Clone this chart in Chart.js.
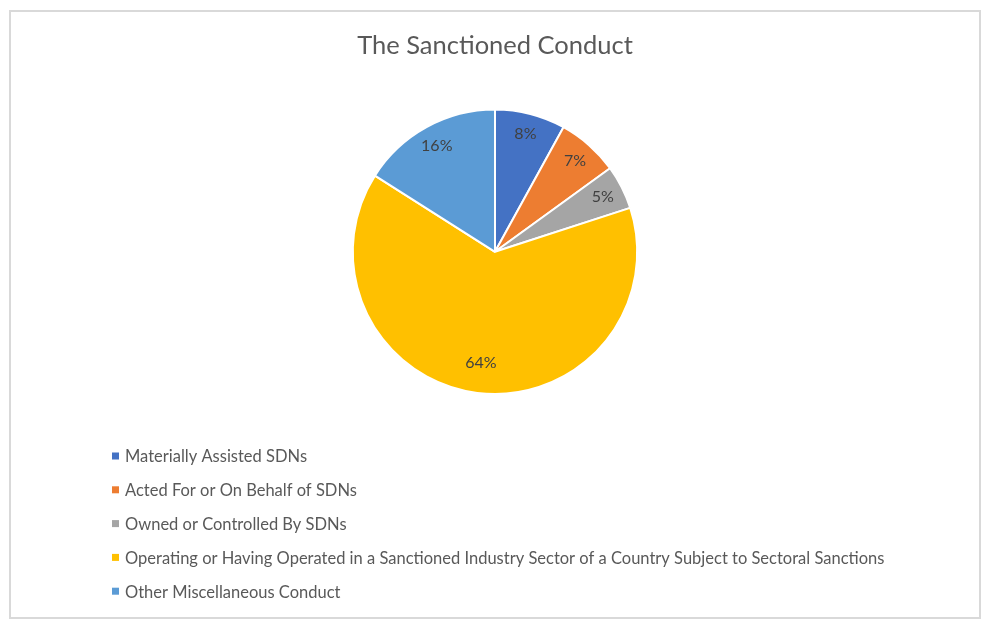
<!DOCTYPE html>
<html>
<head>
<meta charset="utf-8">
<script src="https://cdn.jsdelivr.net/npm/chart.js@4/dist/chart.umd.min.js"></script>
<style>
  html, body { margin: 0; padding: 0; background: #ffffff; }
  #frame { position: absolute; left: 9px; top: 10px; width: 968px; height: 605px; border: 2px solid #d9d9d9; }
  #wrap { position: absolute; left: 0; top: 0; width: 993px; height: 625px; }
</style>
</head>
<body>
<div id="frame"></div>
<div id="wrap"><canvas id="c" width="993" height="625"></canvas></div>
<script>
const categories = [
  "Materially Assisted SDNs",
  "Acted For or On Behalf of SDNs",
  "Owned or Controlled By SDNs",
  "Operating or Having Operated in a Sanctioned Industry Sector of a Country Subject to Sectoral Sanctions",
  "Other Miscellaneous Conduct"
];
const shares = [8, 7, 5, 64, 16];
const valueLabels = ["8%", "7%", "5%", "64%", "16%"];
const chartTitle = "The Sanctioned Conduct";

const sliceColors = ["#4472C4", "#ED7D31", "#A5A5A5", "#FFC000", "#5B9BD5"];
const labelRadiusFactor = [0.86, 0.85, 0.85, 0.79, 0.85];
const FONT = "Lato, 'Open Sans', sans-serif";

const dataLabelPlugin = {
  id: 'dataLabels',
  afterDatasetsDraw(chart) {
    const ctx = chart.ctx;
    const meta = chart.getDatasetMeta(0);
    ctx.save();
    ctx.font = "16px " + FONT;
    ctx.fillStyle = "#404040";
    ctx.textAlign = "center";
    ctx.textBaseline = "middle";
    meta.data.forEach((arc, i) => {
      const p = arc.getProps(['x', 'y', 'startAngle', 'endAngle', 'outerRadius'], true);
      const mid = (p.startAngle + p.endAngle) / 2;
      const r = p.outerRadius * labelRadiusFactor[i];
      ctx.fillText(valueLabels[i], p.x + Math.cos(mid) * r, p.y + Math.sin(mid) * r);
    });
    ctx.restore();
  }
};

const legendPlugin = {
  id: 'sideLegend',
  afterDraw(chart) {
    const ctx = chart.ctx;
    const x0 = 112, y0 = 456, step = 33.8, box = 7;
    ctx.save();
    ctx.font = "16.5px " + FONT;
    ctx.textBaseline = "middle";
    ctx.textAlign = "left";
    chart.data.labels.forEach((lab, i) => {
      const y = y0 + i * step;
      ctx.fillStyle = chart.data.datasets[0].backgroundColor[i];
      ctx.fillRect(x0, y - box / 2, box, box);
      ctx.fillStyle = "#595959";
      ctx.fillText(lab, x0 + 13, y + 1);
    });
    ctx.restore();
  }
};

new Chart(document.getElementById('c'), {
  type: 'pie',
  data: {
    labels: categories,
    datasets: [{
      data: shares,
      backgroundColor: sliceColors,
      borderColor: "#ffffff",
      borderWidth: 2
    }]
  },
  options: {
    responsive: false,
    animation: false,
    devicePixelRatio: 1,
    layout: { padding: { left: 0, right: 3, top: 0, bottom: 230 } },
    plugins: {
      legend: { display: false },
      tooltip: { enabled: false },
      title: {
        display: true,
        text: chartTitle,
        color: "#595959",
        font: { family: FONT, size: 25.5, weight: 'normal', lineHeight: 1.2 },
        padding: { top: 30, bottom: 48 }
      }
    }
  },
  plugins: [dataLabelPlugin, legendPlugin]
});
</script>
</body>
</html>
